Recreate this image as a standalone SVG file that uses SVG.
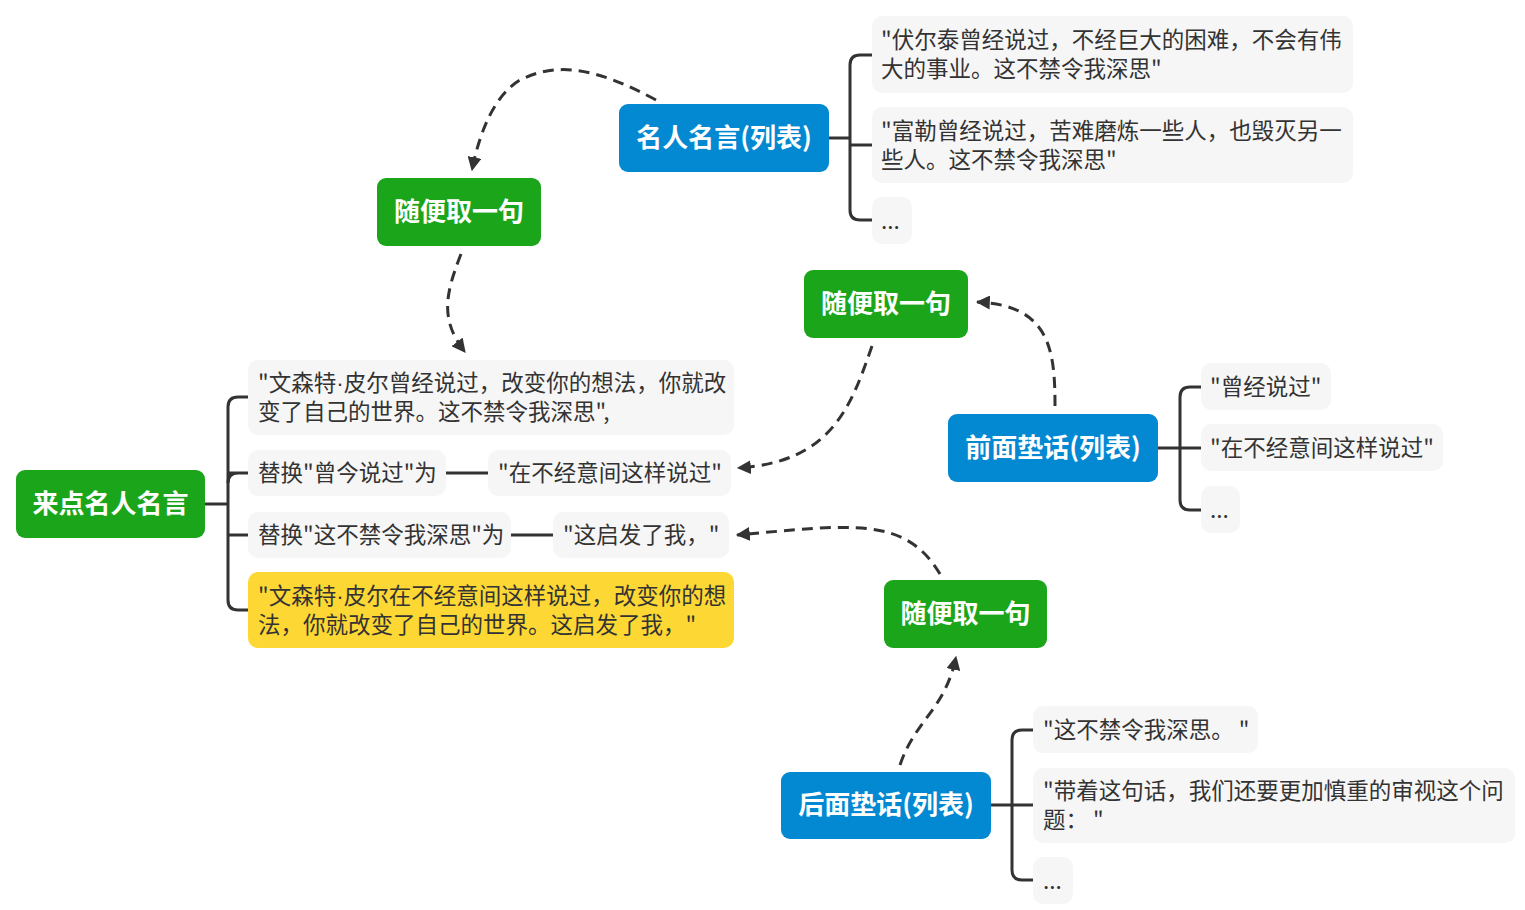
<svg xmlns="http://www.w3.org/2000/svg" width="1525" height="910" viewBox="0 0 1525 910">
<defs>
<marker id="arr" viewBox="0 0 12 12" refX="11" refY="6" markerWidth="14" markerHeight="14" markerUnits="userSpaceOnUse" orient="auto">
<path d="M0,0 L12,6 L0,12 Z" fill="#333"/>
</marker>
<style>
.green{fill:#1BA51B}
.blue{fill:#0388D2}
.leaf{fill:#F6F6F6}
.yellow{fill:#FDD734}
.h{font-family:"Noto Sans CJK SC","Noto Sans",sans-serif;font-size:26px;font-weight:bold;fill:#fff;text-anchor:middle}
.t{font-family:"Noto Sans CJK SC","Noto Sans",sans-serif;font-size:22.5px;fill:#333}
.dot{font-family:"Liberation Sans",sans-serif}
.br{fill:none;stroke:#333;stroke-width:3}
.dash{fill:none;stroke:#333;stroke-width:3;stroke-dasharray:11 7}
</style>
</defs>
<rect width="1525" height="910" fill="#fff"/>
<g id="connectors">
<path class="br" d="M205,504 H228"/>
<path class="br" d="M248,397 H238 Q228,397 228,407 V600 Q228,610 238,610 H248"/>
<path class="br" d="M228,473 H248 M238,473 Q228,473 228,483"/>
<path class="br" d="M228,535 H248"/>
<path class="br" d="M446,473 H488"/>
<path class="br" d="M511,535 H553"/>
<path class="br" d="M829,138 H850"/>
<path class="br" d="M872,55 H860 Q850,55 850,65 V210 Q850,220 860,220 H872"/>
<path class="br" d="M850,145 H872"/>
<path class="br" d="M1158,448 H1201"/>
<path class="br" d="M1201,387 H1190 Q1180,387 1180,397 V500 Q1180,510 1190,510 H1201"/>
<path class="br" d="M991,805 H1033"/>
<path class="br" d="M1033,730 H1022 Q1012,730 1012,740 V870 Q1012,880 1022,880 H1033"/>
<path class="dash" marker-end="url(#arr)" d="M656,100 C600,70 560,60 520,80 C495,95 480,130 472,170"/>
<path class="dash" marker-end="url(#arr)" d="M461,254 C445,295 440,320 465,352"/>
<path class="dash" marker-end="url(#arr)" d="M1055,406 C1055,350 1050,305 977,302"/>
<path class="dash" marker-end="url(#arr)" d="M872,346 C850,410 830,462 738,468"/>
<path class="dash" marker-end="url(#arr)" d="M900,765 C915,720 945,710 956,657"/>
<path class="dash" marker-end="url(#arr)" d="M940,574 C905,515 850,525 737,535"/>
</g>
<g id="root">
<rect class="green" x="16" y="470" width="189" height="68" rx="9"/>
<text class="h" x="110.5" y="513">来点名人名言</text>
</g>
<g id="pick1">
<rect class="green" x="377" y="178" width="164" height="68" rx="9"/>
<text class="h" x="459" y="221">随便取一句</text>
</g>
<g id="quotes">
<rect class="blue" x="619" y="104" width="210" height="68" rx="9"/>
<text class="h" x="724" y="147">名人名言(列表)</text>
</g>
<g id="q1">
<rect class="leaf" x="872" y="16" width="481" height="77" rx="10"/>
<text class="t" x="881" y="48">"伏尔泰曾经说过，不经巨大的困难，不会有伟</text>
<text class="t" x="881" y="77">大的事业。这不禁令我深思"</text>
</g>
<g id="q2">
<rect class="leaf" x="872" y="107" width="481" height="76" rx="10"/>
<text class="t" x="881" y="139">"富勒曾经说过，苦难磨炼一些人，也毁灭另一</text>
<text class="t" x="881" y="168">些人。这不禁令我深思"</text>
</g>
<g id="q3">
<rect class="leaf" x="872" y="197" width="40" height="47" rx="10"/>
<text class="t" x="881" y="229">...</text>
</g>
<g id="a">
<rect class="leaf" x="248" y="360" width="486" height="75" rx="10"/>
<text class="t" x="258" y="391">"文森特<tspan class="dot">·</tspan>皮尔曾经说过，改变你的想法，你就改</text>
<text class="t" x="258" y="420">变了自己的世界。这不禁令我深思",</text>
</g>
<g id="b1">
<rect class="leaf" x="248" y="450" width="198" height="46" rx="10"/>
<text class="t" x="258" y="481">替换"曾今说过"为</text>
</g>
<g id="b2">
<rect class="leaf" x="488" y="450" width="243" height="46" rx="10"/>
<text class="t" x="498" y="481">"在不经意间这样说过"</text>
</g>
<g id="c1">
<rect class="leaf" x="248" y="512" width="263" height="46" rx="10"/>
<text class="t" x="258" y="543">替换"这不禁令我深思"为</text>
</g>
<g id="c2">
<rect class="leaf" x="553" y="512" width="176" height="46" rx="10"/>
<text class="t" x="563" y="543">"这启发了我，"</text>
</g>
<g id="d">
<rect class="yellow" x="248" y="572" width="486" height="76" rx="10"/>
<text class="t" x="258" y="604">"文森特<tspan class="dot">·</tspan>皮尔在不经意间这样说过，改变你的想</text>
<text class="t" x="258" y="633">法，你就改变了自己的世界。这启发了我，"</text>
</g>
<g id="pick2">
<rect class="green" x="804" y="270" width="164" height="68" rx="9"/>
<text class="h" x="886" y="313">随便取一句</text>
</g>
<g id="before">
<rect class="blue" x="948" y="414" width="210" height="68" rx="9"/>
<text class="h" x="1053" y="457">前面垫话(列表)</text>
</g>
<g id="p1">
<rect class="leaf" x="1201" y="363" width="130" height="47" rx="10"/>
<text class="t" x="1210" y="395">"曾经说过"</text>
</g>
<g id="p2">
<rect class="leaf" x="1201" y="424" width="242" height="47" rx="10"/>
<text class="t" x="1210" y="456">"在不经意间这样说过"</text>
</g>
<g id="p3">
<rect class="leaf" x="1201" y="486" width="39" height="47" rx="10"/>
<text class="t" x="1210" y="518">...</text>
</g>
<g id="pick3">
<rect class="green" x="884" y="580" width="163" height="68" rx="9"/>
<text class="h" x="965.5" y="623">随便取一句</text>
</g>
<g id="after">
<rect class="blue" x="781" y="772" width="210" height="67" rx="9"/>
<text class="h" x="886" y="814">后面垫话(列表)</text>
</g>
<g id="s1">
<rect class="leaf" x="1033" y="706" width="225" height="47" rx="10"/>
<text class="t" x="1043" y="738">"这不禁令我深思。 "</text>
</g>
<g id="s2">
<rect class="leaf" x="1033" y="768" width="482" height="75" rx="10"/>
<text class="t" x="1043" y="799">"带着这句话，我们还要更加慎重的审视这个问</text>
<text class="t" x="1043" y="828">题： "</text>
</g>
<g id="s3">
<rect class="leaf" x="1033" y="857" width="40" height="47" rx="10"/>
<text class="t" x="1043" y="889">...</text>
</g>
</svg>
